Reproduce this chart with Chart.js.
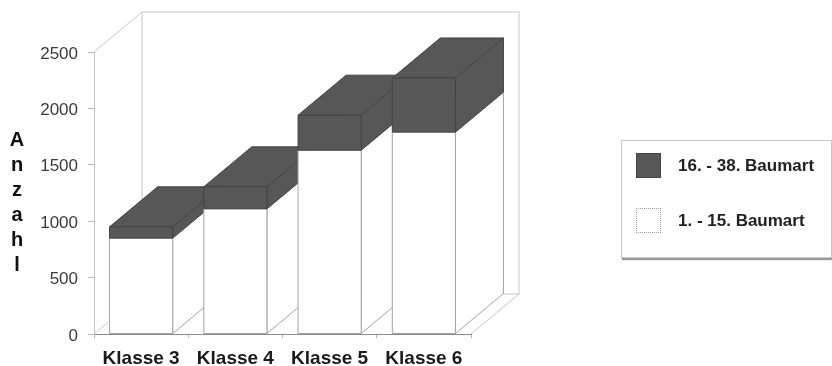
<!DOCTYPE html>
<html>
<head>
<meta charset="utf-8">
<title>Anzahl je Klasse</title>
<script src="https://cdn.jsdelivr.net/npm/chart.js@4.4.1/dist/chart.umd.min.js"></script>
<style>
  html, body { margin: 0; padding: 0; background: #fff; }
  #wrap { position: relative; width: 832px; height: 366px; overflow: hidden;
          font-family: "Liberation Sans", Arial, sans-serif; }
  #chart { position: absolute; left: 0; top: 0; }
  #ytitle { position: absolute; left: 2px; top: 127px; width: 30px; text-align: center;
            font-weight: bold; font-size: 20px; line-height: 25px; color: #111; }
  #legend { position: absolute; left: 621px; top: 140px; width: 209px; height: 116px;
            border: 1px solid #c8c8c8; box-shadow: 1px 2px 1px #9a9a9a; background: #fff; }
  .item { position: absolute; left: 14px; height: 25px; display: flex; align-items: center;
          font-weight: bold; font-size: 17px; color: #222; white-space: nowrap; }
  .sw { width: 25px; height: 25px; margin-right: 17px; box-sizing: border-box; }
</style>
</head>
<body>
<div id="wrap">
  <canvas id="chart" width="832" height="366"></canvas>
  <div id="ytitle">A<br>n<br>z<br>a<br>h<br>l</div>
  <div id="legend"></div>
</div>
<script>
// Categories and stacked series (counts per class)
const categories = ['Klasse 3', 'Klasse 4', 'Klasse 5', 'Klasse 6'];
const baumart1bis15 = [850, 1110, 1630, 1790];
const baumart16bis38 = [100, 195, 310, 480];
const seriesNames = ['1. - 15. Baumart', '16. - 38. Baumart'];
const yMax = 2500;
const yStep = 500;

// Depth of the 3D box (pixel offset of the back plane)
const DX = 48, DY = 40;
const FONT = '"Liberation Sans", Arial, sans-serif';

function line(ctx, x1, y1, x2, y2) {
  ctx.beginPath(); ctx.moveTo(x1, y1); ctx.lineTo(x2, y2); ctx.stroke();
}
function poly(ctx, pts, fill, stroke) {
  ctx.beginPath();
  ctx.moveTo(pts[0][0], pts[0][1]);
  for (let i = 1; i < pts.length; i++) ctx.lineTo(pts[i][0], pts[i][1]);
  ctx.closePath();
  ctx.fillStyle = fill; ctx.fill();
  ctx.strokeStyle = stroke; ctx.stroke();
}

// Draws the walls and each bar segment as a prism, left to right so that
// nearer boxes hide the side faces of their neighbours.
const prism3d = {
  id: 'prism3d',
  beforeDatasetsDraw(chart) {
    const { ctx, chartArea: a } = chart;
    ctx.save();
    ctx.lineWidth = 1;

    // walls and floor
    ctx.strokeStyle = '#c6c6c6';
    line(ctx, a.left, a.top, a.left + DX, a.top - DY);
    ctx.strokeRect(a.left + DX, a.top - DY, a.right - a.left, a.bottom - a.top);
    line(ctx, a.left, a.bottom, a.left + DX, a.bottom - DY);
    line(ctx, a.right, a.bottom, a.right + DX, a.bottom - DY);

    const metas = chart.getSortedVisibleDatasetMetas();
    for (let i = 0; i < categories.length; i++) {
      for (const meta of metas) {
        const bar = meta.data[i];
        if (!bar) continue;
        const ds = chart.data.datasets[meta.index];
        const p = bar.getProps(['x', 'y', 'base', 'width'], true);
        const xl = p.x - p.width / 2, xr = p.x + p.width / 2;
        const top = Math.min(p.y, p.base), bot = Math.max(p.y, p.base);
        // side face
        poly(ctx, [[xr, top], [xr + DX, top - DY], [xr + DX, bot - DY], [xr, bot]],
             ds.backgroundColor, ds.borderColor);
        // top face
        poly(ctx, [[xl, top], [xl + DX, top - DY], [xr + DX, top - DY], [xr, top]],
             ds.backgroundColor, ds.borderColor);
        // front face
        poly(ctx, [[xl, top], [xr, top], [xr, bot], [xl, bot]],
             ds.backgroundColor, ds.borderColor);
      }
    }
    ctx.restore();
    return false;
  }
};

const chart = new Chart(document.getElementById('chart'), {
  type: 'bar',
  data: {
    labels: categories,
    datasets: [
      { label: seriesNames[0], data: baumart1bis15, backgroundColor: '#ffffff',
        borderColor: '#a2a2a2', borderWidth: 1, categoryPercentage: 1, barPercentage: 0.67 },
      { label: seriesNames[1], data: baumart16bis38, backgroundColor: '#575757',
        borderColor: '#444444', borderWidth: 1, categoryPercentage: 1, barPercentage: 0.67 }
    ]
  },
  options: {
    responsive: false,
    animation: false,
    devicePixelRatio: 1,
    layout: { padding: { left: 0, top: 52, right: 361, bottom: 0 } },
    plugins: { legend: { display: false }, tooltip: { enabled: false } },
    scales: {
      x: {
        stacked: true,
        z: 1,
        grid: { drawOnChartArea: false, drawTicks: true, tickLength: 4, color: '#b4b4b4' },
        border: { display: true, color: '#8c8c8c' },
        ticks: { font: { family: FONT, size: 19, weight: 'bold' }, color: '#1a1a1a',
                 padding: 9, maxRotation: 0, autoSkip: false },
        afterFit(s) { s.height = 32; }
      },
      y: {
        stacked: true,
        min: 0,
        max: yMax,
        grid: { drawOnChartArea: false, drawTicks: true, tickLength: 6, color: '#bdbdbd' },
        border: { display: true, color: '#c6c6c6' },
        ticks: { stepSize: yStep, font: { family: FONT, size: 17 }, color: '#3a3a3a',
                 padding: 10, labelOffset: 2, callback: v => String(v) },
        afterFit(s) { s.width = 94; }
      }
    }
  },
  plugins: [prism3d]
});

// Legend: top series first, as stacked
const legend = document.getElementById('legend');
const legendTops = [12, 67];
[1, 0].forEach((di, k) => {
  const ds = chart.data.datasets[di];
  const item = document.createElement('div');
  item.className = 'item';
  item.style.top = legendTops[k] + 'px';
  const sw = document.createElement('span');
  sw.className = 'sw';
  sw.style.background = ds.backgroundColor;
  sw.style.border = di === 0 ? '1px dotted #9a9a9a' : '1px solid ' + ds.borderColor;
  const tx = document.createElement('span');
  tx.textContent = ds.label;
  item.appendChild(sw);
  item.appendChild(tx);
  legend.appendChild(item);
});
</script>
</body>
</html>
